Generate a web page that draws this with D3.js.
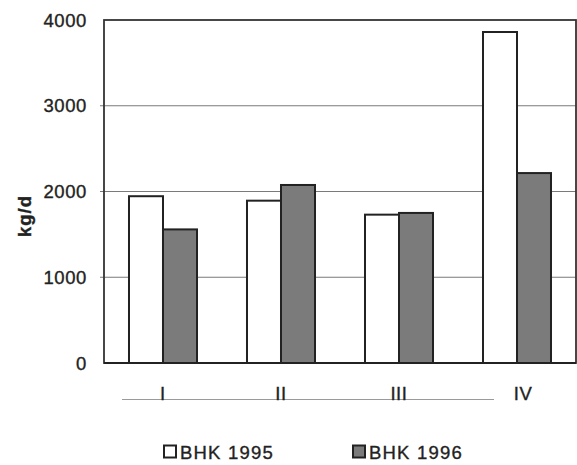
<!DOCTYPE html>
<html>
<head>
<meta charset="utf-8">
<script src="https://cdn.jsdelivr.net/npm/d3@7"></script>
<style>
  html, body { margin: 0; padding: 0; background: #fff; }
  svg { display: block; font-family: "Liberation Sans", Arial, sans-serif; }
  svg text { stroke: #222; stroke-width: 0.35px; }
</style>
</head>
<body>
<svg id="chart" width="577" height="465"></svg>
<script>
// Quarterly loads (kg/d)
const categories = ["I", "II", "III", "IV"];
const seriesNames = ["BHK 1995", "BHK 1996"];
const bhk1995 = [1945, 1893, 1730, 3860];
const bhk1996 = [1558, 2076, 1750, 2215];
const yTicks = [0, 1000, 2000, 3000, 4000];
const seriesFill = ["#ffffff", "#7b7b7b"];

const svg = d3.select("#chart");
const plot = { left: 104, right: 576, top: 20, bottom: 363 };

const y = d3.scaleLinear().domain([0, 4000]).range([plot.bottom, plot.top]);
const x0 = d3.scaleBand().domain(categories).range([plot.left, plot.right])
  .paddingInner(0.4237).paddingOuter(0.2118);
const x1 = d3.scaleBand().domain(seriesNames).range([0, x0.bandwidth()]);

const rows = categories.map((c, i) => ({ cat: c, values: [bhk1995[i], bhk1996[i]] }));

// gridlines
svg.append("g")
  .selectAll("line").data(yTicks.filter(t => t > 0 && t < 4000)).join("line")
  .attr("x1", plot.left - 4).attr("x2", plot.right)
  .attr("y1", d => y(d)).attr("y2", d => y(d))
  .attr("stroke", "#7a7a7a").attr("stroke-width", 1.1);

// y tick labels
svg.append("g")
  .selectAll("text").data(yTicks).join("text")
  .attr("x", 87).attr("y", d => y(d))
  .attr("dy", "0.36em")
  .attr("text-anchor", "end")
  .attr("font-size", 18.5)
  .attr("letter-spacing", 0.6)
  .attr("fill", "#222")
  .text(d => d);

// bars
svg.append("g")
  .selectAll("g").data(rows).join("g")
  .attr("transform", d => `translate(${x0(d.cat)},0)`)
  .selectAll("rect").data(d => d.values.map((v, j) => ({ v, j }))).join("rect")
  .attr("x", d => x1(seriesNames[d.j]))
  .attr("width", x1.bandwidth())
  .attr("y", d => y(d.v))
  .attr("height", d => y(0) - y(d.v))
  .attr("fill", d => seriesFill[d.j])
  .attr("stroke", "#222").attr("stroke-width", 2);

// plot frame
svg.append("rect")
  .attr("x", plot.left).attr("y", plot.top)
  .attr("width", plot.right - plot.left).attr("height", plot.bottom - plot.top)
  .attr("fill", "none").attr("stroke", "#333").attr("stroke-width", 1.8);
svg.append("line")
  .attr("x1", plot.left).attr("x2", plot.right)
  .attr("y1", plot.bottom).attr("y2", plot.bottom)
  .attr("stroke", "#222").attr("stroke-width", 2.2);

// category axis line and labels
svg.append("line")
  .attr("x1", 122).attr("x2", 494).attr("y1", 399.5).attr("y2", 399.5)
  .attr("stroke", "#9a9a9a").attr("stroke-width", 1);
svg.append("g")
  .selectAll("text").data(categories).join("text")
  .attr("x", d => x0(d) + x0.bandwidth() / 2 + (d === "IV" ? 6 : 0))
  .attr("y", 400)
  .attr("text-anchor", "middle")
  .attr("font-size", 18.5)
  .attr("letter-spacing", 0.6)
  .attr("fill", "#222")
  .text(d => d);

// y axis title
svg.append("text")
  .attr("transform", "translate(31,216) rotate(-90)")
  .attr("text-anchor", "middle")
  .attr("font-size", 18.5)
  .attr("font-weight", "bold")
  .attr("letter-spacing", 1)
  .attr("fill", "#222")
  .text("kg/d");

// legend
const legendX = [163, 352];
const legend = svg.append("g").selectAll("g").data(seriesNames).join("g")
  .attr("transform", (d, i) => `translate(${legendX[i]},445)`);
legend.append("rect")
  .attr("x", 1).attr("y", 0.5).attr("width", 12).attr("height", 12)
  .attr("fill", (d, i) => seriesFill[i])
  .attr("stroke", "#222").attr("stroke-width", 2);
legend.append("text")
  .attr("x", 17).attr("y", 13.5)
  .attr("font-size", 18.5)
  .attr("letter-spacing", 1.2)
  .attr("fill", "#222")
  .text(d => d);
</script>
</body>
</html>
